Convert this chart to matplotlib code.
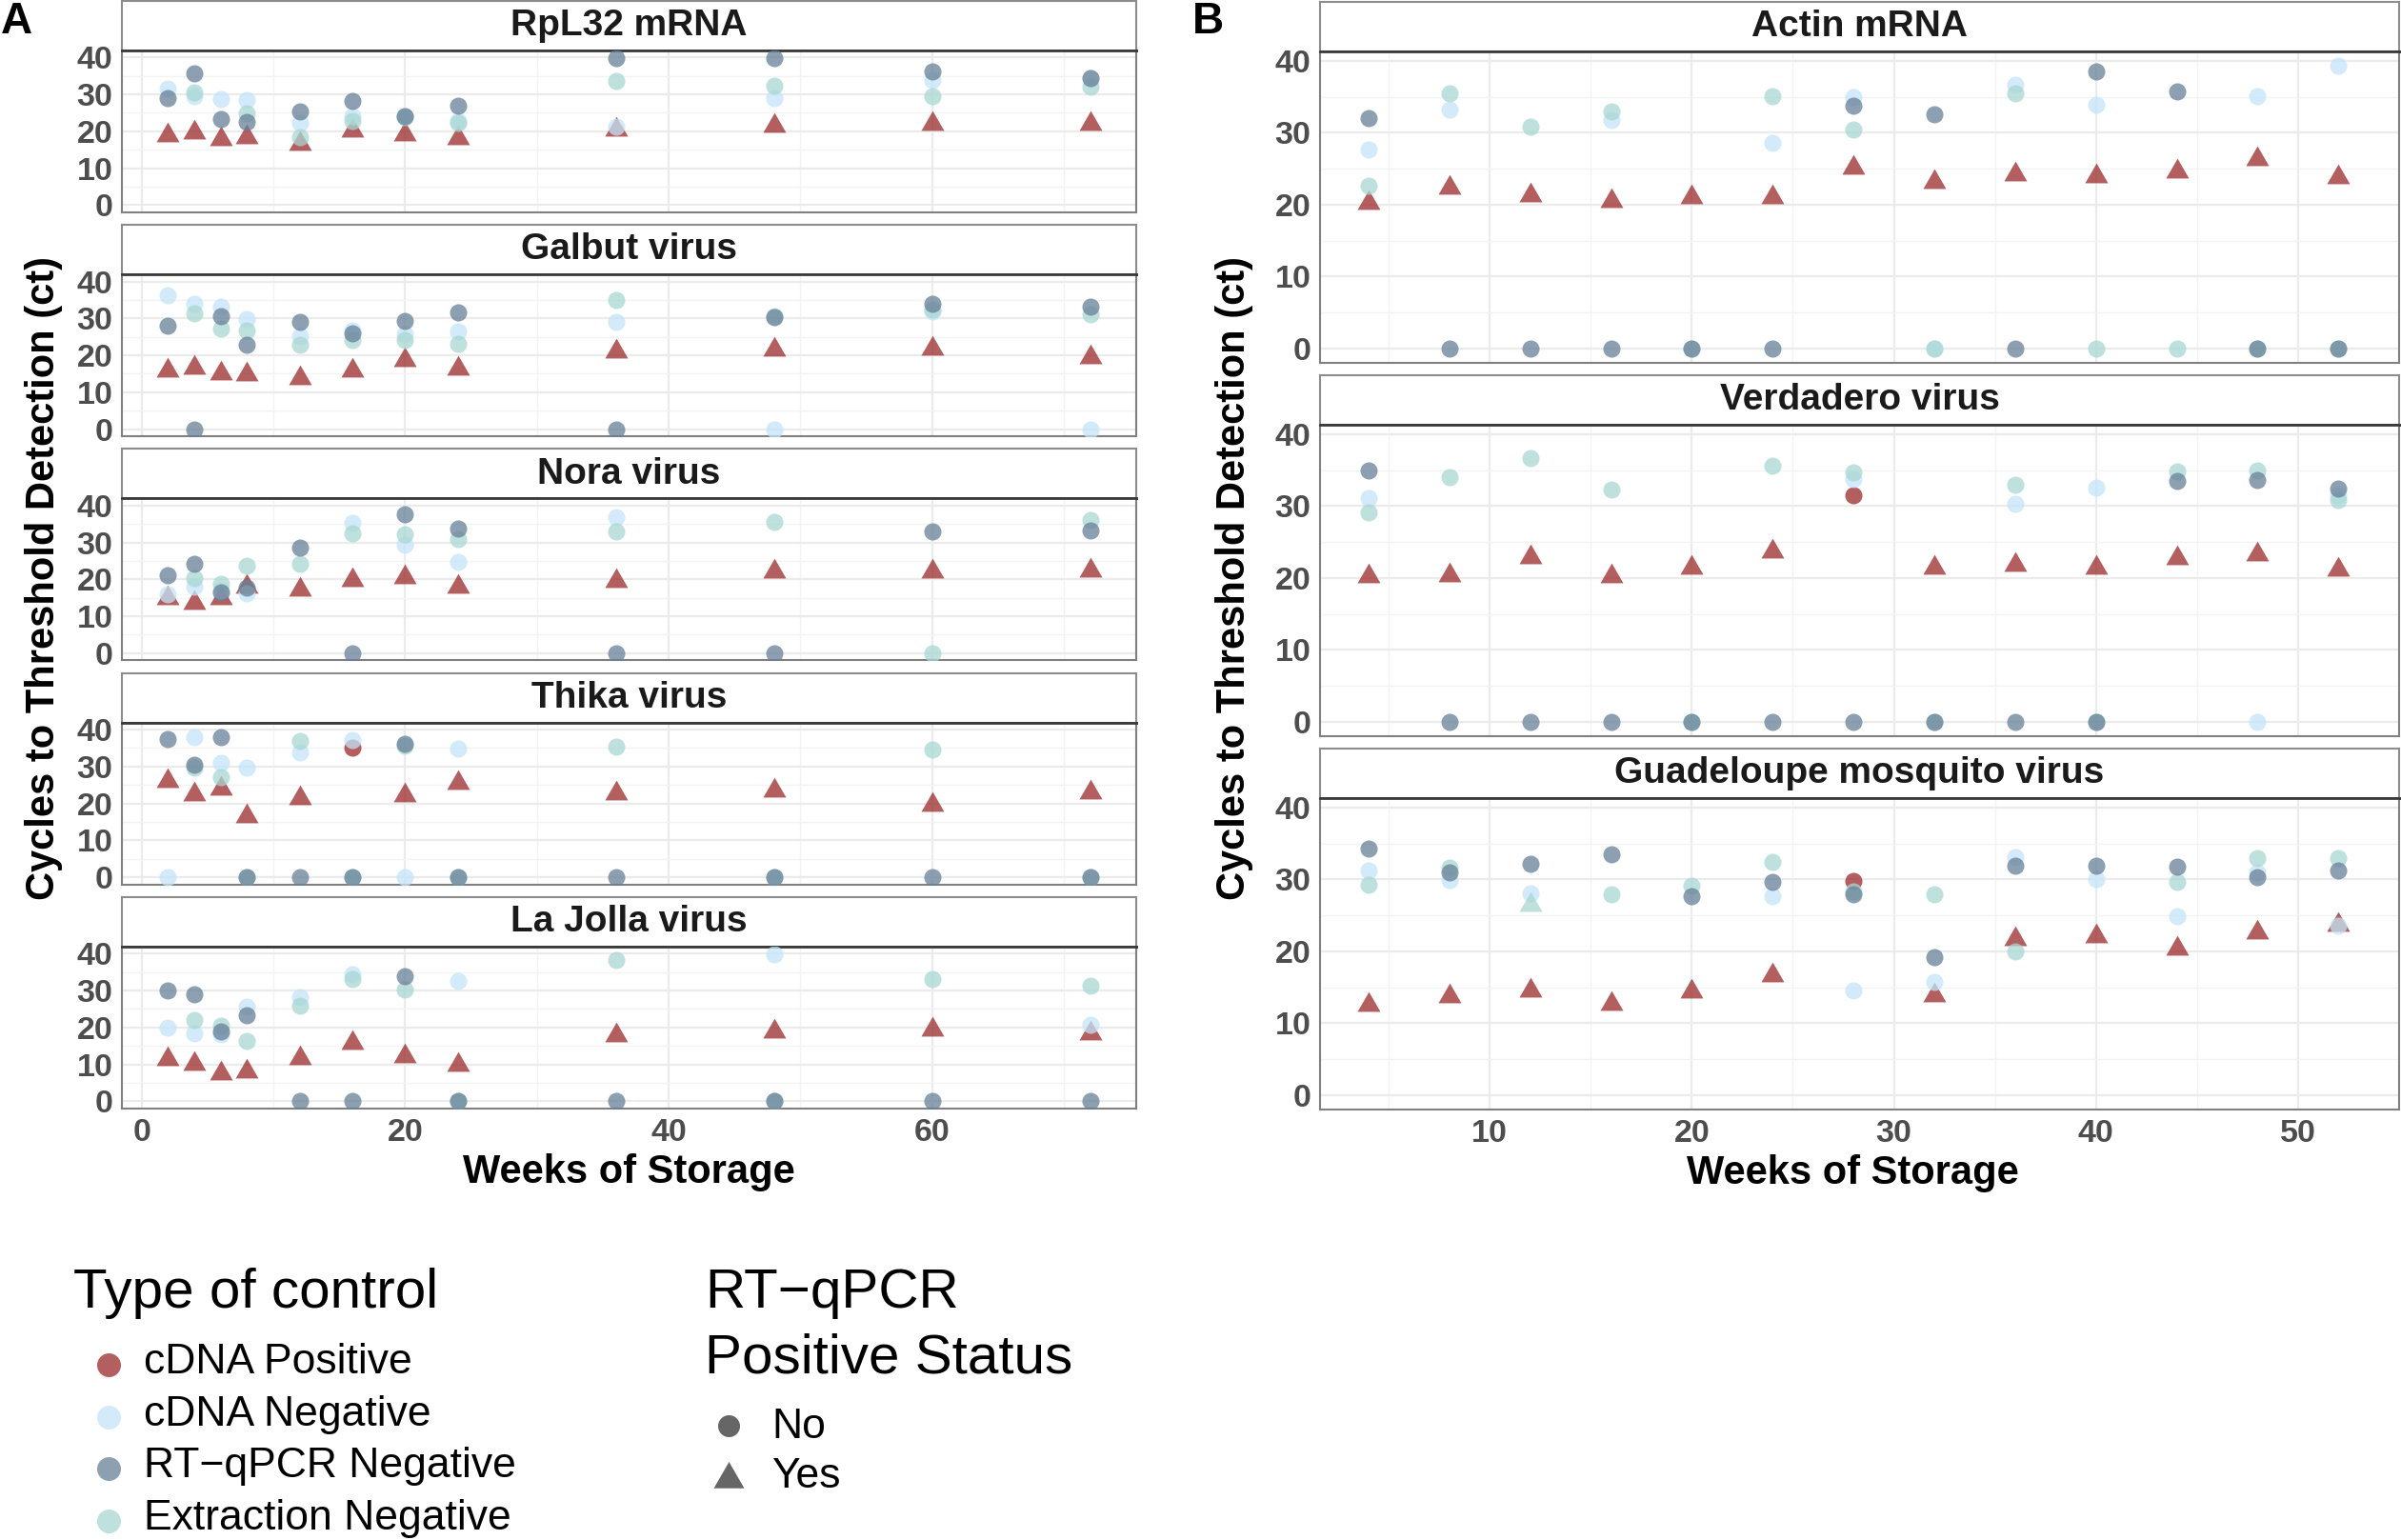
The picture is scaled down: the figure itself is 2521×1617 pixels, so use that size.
import numpy as np
import matplotlib
matplotlib.use("Agg")
import matplotlib.pyplot as plt
from matplotlib.path import Path

plt.rcParams['font.family'] = ['Liberation Sans', 'DejaVu Sans']

nan = np.nan

# weeks of storage
weeks_a = [2, 4, 6, 8, 12, 16, 20, 24, 36, 48, 60, 72]
weeks_b = [4, 8, 12, 16, 20, 24, 28, 32, 36, 40, 44, 48, 52]

controls = ["cDNA Positive", "cDNA Negative", "RT\u2212qPCR Negative", "Extraction Negative"]
colours = ["#9b2a2a", "#c3e4f8", "#668098", "#a8d7d3"]
draw_order = [0, 1, 3, 2]   # RT-qPCR negatives end up on top

# ---- panel A (ct values, nan = not measured) ----
rpl32_pos = [18.8, 19.8, 17.9, 18.4, 16.6, 20.1, 19.2, 18.1, 20.5, 21.6, 22.1, 22.1]
rpl32_cneg = [31.5, 29.6, 28.7, 28.4, 22.4, 24.0, 24.0, 22.8, 21.2, 29.0, 33.9, 34.3]
rpl32_rtneg = [29.0, 35.8, 23.4, 22.5, 25.5, 28.3, 24.1, 26.8, 39.9, 39.9, 36.2, 34.5]
rpl32_ext = [nan, 30.6, nan, 24.8, 18.5, 22.8, 23.8, 22.2, 33.7, 32.4, 29.4, 32.2]

galbut_pos = [15.9, 16.6, 15.0, 14.8, 13.9, 15.9, 18.6, 16.3, 21.0, 21.6, 21.9, 19.5]
galbut_cneg = [36.3, 34.0, 33.1, 29.8, 25.1, 26.6, 25.8, 26.5, 29.0, 0, 31.8, 0]
galbut_rtneg = [27.9, 0, 30.7, 22.9, 29.1, 26.0, 29.3, 31.6, 0, 30.3, 34.0, 33.1]
galbut_ext = [nan, 31.4, 27.2, 26.8, 22.8, 24.1, 24.2, 23.2, 35.1, 30.5, 32.5, 31.1]

nora_pos = [14.9, 13.6, 14.9, 17.9, 17.2, 19.7, 20.6, 18.0, 19.6, 22.1, 22.1, 22.3]
nora_cneg = [15.9, 18.0, 17.0, 16.2, nan, 35.3, 29.4, 24.7, 36.8, nan, nan, nan]
nora_rtneg = [21.2, 24.2, 16.4, 17.7, 28.5, 0, 37.6, 33.8, 0, 0, 32.9, 33.2]
nora_ext = [nan, 20.4, 18.7, 23.8, 24.1, 32.6, 32.1, 30.8, 33.0, 35.5, 0, 36.2]

thika_pos = [26.0, 22.4, 24.0, 16.4, 21.5, 35.1, 22.1, 25.5, 22.7, 23.4, 19.6, 23.0]
thika_cneg = [0, 37.9, 31.1, 29.7, 33.8, 37.2, 0, 34.9, nan, nan, nan, nan]
thika_rtneg = [37.4, 30.6, 37.9, 0, 0, 0, 36.2, 0, 0, 0, 0, 0]
thika_ext = [nan, 29.8, 27.0, 0, 37.0, 0, 35.7, 0, 35.5, 0, 34.6, 0]

lajolla_pos = [11.3, 10.2, 7.6, 8.0, 11.7, 15.9, 12.1, 10.0, 17.9, 18.9, 19.4, 18.5]
lajolla_cneg = [20.0, 18.5, 18.2, 25.7, 28.3, 34.4, nan, 32.6, nan, 39.8, nan, 20.6]
lajolla_rtneg = [30.0, 28.9, 18.9, 23.4, 0, 0, 33.8, 0, 0, 0, 0, 0]
lajolla_ext = [nan, 21.9, 20.4, 16.4, 26.0, 33.2, 30.2, 0, 38.3, 0, 33.2, 31.3]

# ---- panel B ----
actin_pos = [20.2, 22.3, 21.3, 20.5, 21.1, 21.0, 25.1, 23.2, 24.2, 24.0, 24.6, 26.4, 23.8]
actin_cneg = [27.6, 33.2, nan, 31.8, nan, 28.6, 34.9, 0, 36.6, 33.9, nan, 35.1, 39.3]
actin_rtneg = [32.0, 0, 0, 0, 0, 0, 33.8, 32.5, 0, 38.5, 35.7, 0, 0]
actin_ext = [22.6, 35.5, 30.9, 33.0, 0, 35.1, 30.4, 0, 35.5, 0, 0, 0, 0]

verd_pos = [20.2, 20.4, 22.9, 20.2, 21.5, 23.7, 31.5, 21.5, 21.9, 21.4, 22.7, 23.3, 21.2]
verd_cneg = [31.1, nan, nan, nan, nan, nan, 33.8, nan, 30.3, 32.6, nan, 0, 31.5]
verd_rtneg = [35.0, 0, 0, 0, 0, 0, 0, 0, 0, 0, 33.5, 33.6, 32.4]
verd_ext = [29.1, 34.0, 36.7, 32.3, 0, 35.6, 34.7, 0, 33.0, 0, 34.8, 35.0, 30.8]

guad_pos = [12.6, 13.7, 14.5, 12.7, 14.4, 16.7, 29.8, 13.9, 21.7, 22.1, 20.4, 22.6, 23.7]
guad_cneg = [31.2, 29.9, 28.0, nan, nan, 27.6, 14.6, 15.7, 33.1, 30.0, 24.9, 31.0, 23.5]
guad_rtneg = [34.3, 31.0, 32.2, 33.5, 27.6, 29.6, 27.9, 19.2, 31.9, 31.9, 31.7, 30.3, 31.3]
guad_ext = [29.2, 31.6, 26.5, 27.9, 29.1, 32.4, 28.3, 27.9, 20.0, nan, 29.6, 32.9, 33.0]

targets_a = ["RpL32 mRNA", "Galbut virus", "Nora virus", "Thika virus", "La Jolla virus"]
targets_b = ["Actin mRNA", "Verdadero virus", "Guadeloupe mosquito virus"]
series = {
    "RpL32 mRNA": [rpl32_pos, rpl32_cneg, rpl32_rtneg, rpl32_ext],
    "Galbut virus": [galbut_pos, galbut_cneg, galbut_rtneg, galbut_ext],
    "Nora virus": [nora_pos, nora_cneg, nora_rtneg, nora_ext],
    "Thika virus": [thika_pos, thika_cneg, thika_rtneg, thika_ext],
    "La Jolla virus": [lajolla_pos, lajolla_cneg, lajolla_rtneg, lajolla_ext],
    "Actin mRNA": [actin_pos, actin_cneg, actin_rtneg, actin_ext],
    "Verdadero virus": [verd_pos, verd_cneg, verd_rtneg, verd_ext],
    "Guadeloupe mosquito virus": [guad_pos, guad_cneg, guad_rtneg, guad_ext],
}

# positive controls that did not come up positive, negatives that did
not_positive = [("Thika virus", 16), ("Verdadero virus", 28), ("Guadeloupe mosquito virus", 28)]
false_positive = [("Guadeloupe mosquito virus", "Extraction Negative", 12)]

W, H = 2521, 1617
fig = plt.figure(figsize=(W / 100, H / 100), dpi=100)

tri = Path([(0, 1.155), (-1, -0.577), (1, -0.577), (0, 1.155)],
           [Path.MOVETO, Path.LINETO, Path.LINETO, Path.CLOSEPOLY])
ALPHA = 0.75
tick_col = '#4d4d4d'


def px_axes(l, t, r, b):
    return fig.add_axes([l / W, 1 - b / H, (r - l) / W, (b - t) / H])


def strip(l, t, r, b, title):
    sax = px_axes(l, t, r, b)
    sax.set_xticks([])
    sax.set_yticks([])
    for sp in sax.spines.values():
        sp.set_color('#8c8c8c')
        sp.set_linewidth(1.5)
    sax.spines['bottom'].set_color('#3a3a3a')
    sax.spines['bottom'].set_linewidth(2)
    sax.text(0.5, 0.5, title, ha='center', va='center', fontsize=28,
             fontweight='bold', color='#1a1a1a', transform=sax.transAxes)


def panel(l, t, r, b, name, weeks, xlim, ylim, xmaj, xmin, show_x):
    ax = px_axes(l, t, r, b)
    w = np.array(weeks, float)
    for ci in draw_order:
        ctrl = controls[ci]
        v = np.array(series[name][ci], float)
        yes = np.zeros(len(w), bool)
        if ci == 0:
            yes[:] = True
            for tname, wk in not_positive:
                if tname == name:
                    yes[w == wk] = False
        for tname, c, wk in false_positive:
            if tname == name and c == ctrl:
                yes[w == wk] = True
        ok = ~np.isnan(v)
        ax.scatter(w[ok & ~yes], v[ok & ~yes], s=169, marker='o', color=colours[ci],
                   alpha=ALPHA, linewidths=0, zorder=3)
        ax.scatter(w[ok & yes], v[ok & yes], s=400, marker=tri, color=colours[ci],
                   alpha=ALPHA, linewidths=0, zorder=3)
    ax.set_xlim(xlim)
    ax.set_ylim(ylim)
    ax.set_xticks(xmaj, labels=[str(x) for x in xmaj], fontweight='bold')
    ax.set_xticks(xmin, minor=True)
    ax.set_yticks([0, 10, 20, 30, 40], labels=['0', '10', '20', '30', '40'], fontweight='bold')
    ax.set_yticks([5, 15, 25, 35], minor=True)
    ax.grid(which='major', color='#ebebeb', lw=1.6)
    ax.grid(which='minor', color='#f3f3f3', lw=1.0)
    ax.set_axisbelow(True)
    ax.tick_params(which='both', length=0)
    ax.tick_params(labelsize=24.5, labelcolor=tick_col, pad=7)
    if not show_x:
        ax.tick_params(labelbottom=False)
    for sp in ax.spines.values():
        sp.set_color('#808080')
        sp.set_linewidth(1.5)
    ax.spines['top'].set_color('#3a3a3a')
    ax.spines['top'].set_linewidth(2)
    return ax


# panel A: five facets
a_l, a_r = 128, 1193
for i, name in enumerate(targets_a):
    top = 1 + i * 235.25
    strip(a_l, top, a_r, top + 52, name)
    panel(a_l, top + 52, a_r, top + 222, name, weeks_a, (-1.5, 75.5), (-2.0, 41.9),
          [0, 20, 40, 60], [10, 30, 50, 70], i == len(targets_a) - 1)

# panel B: three facets
b_l, b_r = 1386, 2519
for i, name in enumerate(targets_b):
    top = 2 + i * 392
    strip(b_l, top, b_r, top + 52, name)
    panel(b_l, top + 52, b_r, top + 379, name, weeks_b, (1.6, 54.4), (-2.0, 41.3),
          [10, 20, 30, 40, 50], [5, 15, 25, 35, 45, 55], i == len(targets_b) - 1)

# axis titles and panel letters
fig.text(46 / W, 1 - 607 / H, "Cycles to Threshold Detection (ct)", rotation=90,
         ha='center', va='center', fontsize=30, fontweight='bold')
fig.text(1296 / W, 1 - 607 / H, "Cycles to Threshold Detection (ct)", rotation=90,
         ha='center', va='center', fontsize=30, fontweight='bold')
fig.text(660 / W, 1 - 1231 / H, "Weeks of Storage", ha='center', va='center',
         fontsize=30, fontweight='bold')
fig.text(1945 / W, 1 - 1232 / H, "Weeks of Storage", ha='center', va='center',
         fontsize=30, fontweight='bold')
fig.text(17 / W, 1 - 23 / H, "A", ha='center', va='center', fontsize=33, fontweight='bold')
fig.text(1268 / W, 1 - 23 / H, "B", ha='center', va='center', fontsize=33, fontweight='bold')

# legends drawn in a pixel-coordinate overlay
lax = fig.add_axes([0, 0, 1, 1])
lax.set_xlim(0, W)
lax.set_ylim(H, 0)
lax.axis('off')

lax.text(77, 1373, "Type of control", fontsize=42, va='baseline', ha='left')
for k, (ctrl, col) in enumerate(zip(controls, colours)):
    ky = 1433 + k * 54.7
    lax.scatter([114], [ky], s=324, marker='o', color=col, alpha=ALPHA, linewidths=0)
    lax.text(151, ky + 9, ctrl, fontsize=32, va='baseline', ha='left')

lax.text(740, 1373, "RT\u2212qPCR", fontsize=42, va='baseline', ha='left')
lax.text(740, 1441, "Positive Status", fontsize=42, va='baseline', ha='left')
status = ["No", "Yes"]
status_marker = ['o', tri]
status_size = [275, 708]
for k, (lab, mk, sz) in enumerate(zip(status, status_marker, status_size)):
    ky = 1497 + k * 52
    lax.scatter([765], [ky + (4 if k == 1 else 0)], s=sz, marker=mk, color='#666666', linewidths=0)
    lax.text(810, ky + 13, lab, fontsize=32, va='baseline', ha='left')

fig.savefig("out.png", dpi=100)
